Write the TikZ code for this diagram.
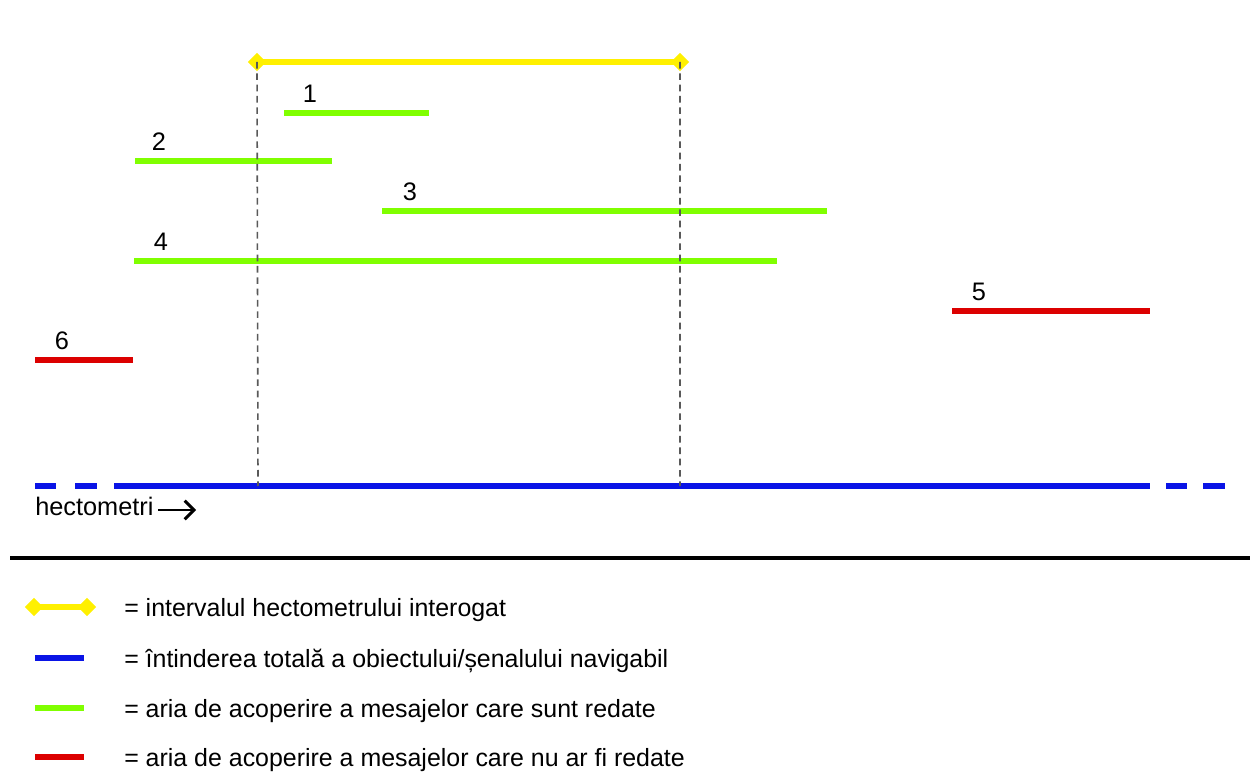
\documentclass[tikz,border=0pt]{standalone}
\usepackage{fontspec}
\setmainfont{Liberation Sans}
\usetikzlibrary{shapes.geometric,arrows.meta}
\definecolor{cyellow}{RGB}{255,240,0}
\definecolor{cgreen}{RGB}{128,255,0}
\definecolor{cred}{RGB}{220,0,0}
\definecolor{cblue}{RGB}{10,20,230}
\tikzset{hmsec/.style={x=0.75pt,y=-0.75pt,font=\fontsize{19}{22}\selectfont},
  seg/.style={line width=3.8pt},
  tip/.style={diamond,fill=cyellow,inner sep=0pt,minimum size=14pt},
  leg/.style={anchor=base west,inner sep=0pt,font=\fontsize{18.7}{22}\selectfont}}

\begin{document}
\begin{tikzpicture}[hmsec]
    \useasboundingbox (0,0) rectangle (1260,780);
    % queried interval
    \coordinate (qa) at (257,62); \coordinate (qb) at (680,62);
    \draw[cyellow,seg] (qa) -- (qb);
    \node[tip] at (qa) {}; \node[tip] at (qb) {};
    % messages
    \foreach \a/\b/\y/\c/\n/\lx in {284/429/113/cgreen/1/310, 135/332/161/cgreen/2/159,
        382/827/211/cgreen/3/410, 134/777/261/cgreen/4/161, 952/1150/311/cred/5/979, 35/133/360/cred/6/62} {
      \coordinate (s\n a) at (\a,\y); \coordinate (s\n b) at (\b,\y);
      \draw[\c,seg] (s\n a) -- (s\n b);
      \node[anchor=base] (l\n) at (\lx,{\y-10}) {\n};
    }
    % fairway
    \foreach \a/\b [count=\i] in {35/56,75/97,114/1150,1166/1187,1203/1225}
      \draw[cblue,line width=4.5pt] (\a,486) coordinate (h\i a) -- (\b,486) coordinate (h\i b);
    \coordinate (ba) at (258,486); \coordinate (bb) at (680,486);
    \draw[black!65,line width=1.2pt,dash pattern=on 5pt off 3.5pt] (qa) -- (ba) (qb) -- (bb);
    \node[anchor=base west,inner sep=0pt] (hm) at (35,515) {hectometri};
    \coordinate (hb) at (158,510); \coordinate (ha) at (196,510);
    \draw[line width=2.2pt,-{Straight Barb[length=7pt,width=14pt]}] (hb) -- (ha);
    \draw[line width=3pt] (10,558) coordinate (sepa) -- (1250,558) coordinate (sepb);
    % legend
    \coordinate (ka) at (34,607); \coordinate (kb) at (87,607);
    \draw[cyellow,seg] (ka) -- (kb);
    \node[tip] at (ka) {}; \node[tip] at (kb) {};
    \draw[cblue,seg] (35,658) coordinate (kc) -- (84,658) coordinate (kd);
    \draw[cgreen,seg] (35,708) coordinate (ke) -- (84,708) coordinate (kf);
    \draw[cred,seg] (35,757) coordinate (kg) -- (84,757) coordinate (kh);
    \node[leg] (t1) at (124,616) {= intervalul hectometrului interogat};
    \node[leg] (t2) at (124,667) {= întinderea totală a obiectului/șenalului navigabil};
    \node[leg] (t3) at (124,717) {= aria de acoperire a mesajelor care sunt redate};
    \node[leg] (t4) at (124,766) {= aria de acoperire a mesajelor care nu ar fi redate};
\end{tikzpicture}
\end{document}
